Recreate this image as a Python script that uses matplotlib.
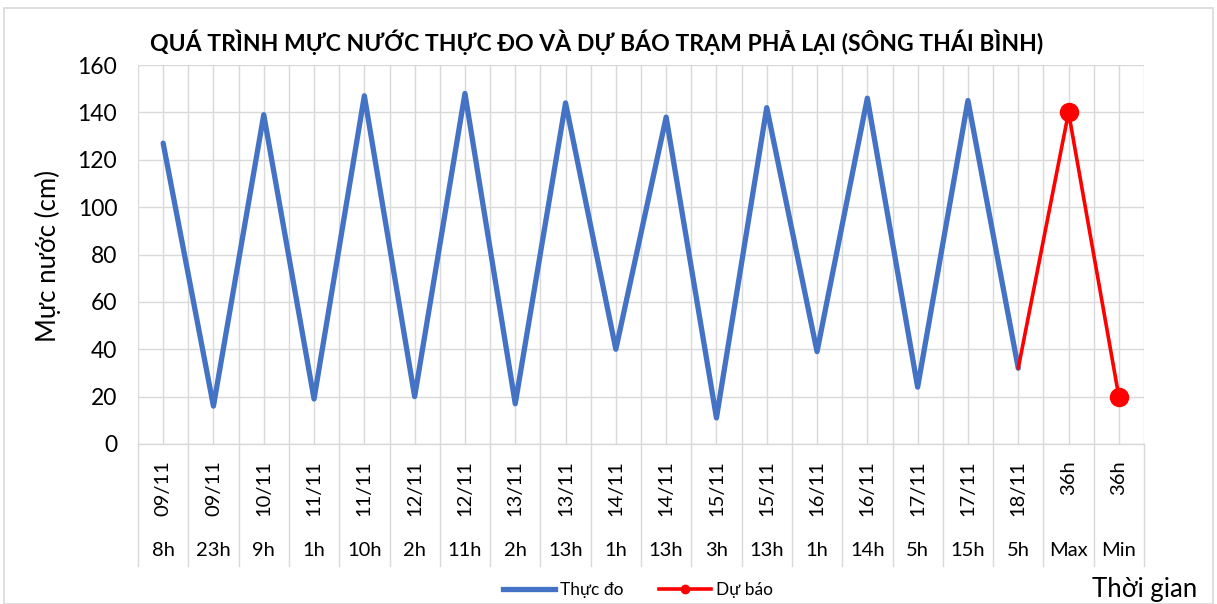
import matplotlib
matplotlib.use("Agg")
import matplotlib.pyplot as plt
from matplotlib.lines import Line2D
import numpy as np

plt.rcParams['font.family'] = ['Lato', 'DejaVu Sans']

dates = ["09/11", "09/11", "10/11", "11/11", "11/11", "12/11", "12/11", "13/11", "13/11", "14/11",
         "14/11", "15/11", "15/11", "16/11", "16/11", "17/11", "17/11", "18/11", "36h", "36h"]
hours = ["8h", "23h", "9h", "1h", "10h", "2h", "11h", "2h", "13h", "1h",
         "13h", "3h", "13h", "1h", "14h", "5h", "15h", "5h", "Max", "Min"]
observed = [127, 16, 139, 19, 147, 20, 148, 17, 144, 40, 138, 11, 142, 39, 146, 24, 145, 32]
forecast = [32, 140, 20]

W, H = 1217, 604
fig = plt.figure(figsize=(W / 100, H / 100), dpi=100)
L, R, T, B = 138, 1144, 65, 444
ax = fig.add_axes([L / W, 1 - B / H, (R - L) / W, (B - T) / H])

n = len(dates)
x = np.arange(n)
ax.plot(x[:len(observed)], observed, color="#4472C4", lw=3.8, solid_capstyle="round",
        solid_joinstyle="round", zorder=3)
fx = x[len(observed) - 1:len(observed) - 1 + len(forecast)]
ax.plot(fx, forecast, color="#FF0000", lw=2.6, solid_capstyle="round",
        solid_joinstyle="round", zorder=4)
ax.plot(fx[1:], forecast[1:], "o", color="#FF0000", ms=13, zorder=5)

ax.set_xlim(-0.5, n - 0.5)
ax.set_ylim(0, 160)
ax.set_yticks(np.arange(0, 161, 20))
ax.set_xticks(np.arange(-0.5, n, 0.5))
ax.set_xticklabels([])
ax.tick_params(axis="x", length=0)
ax.tick_params(axis="y", length=0, labelsize=16.5, pad=15, colors="#000000")
ax.grid(True, color="#D9D9D9", lw=1.0, zorder=0)
for s in ["top", "right", "left"]:
    ax.spines[s].set_visible(False)
ax.spines["bottom"].set_color("#D9D9D9")
ax.spines["bottom"].set_linewidth(1.0)

trans = ax.get_xaxis_transform()
axh = B - T
for i in range(n):
    ax.text(i, -16 / axh, dates[i], rotation=90, ha="center", va="top",
            fontsize=14.5, transform=trans)
    ax.text(i, -(551 - B) / axh, hours[i], ha="center", va="center",
            fontsize=14.5, transform=trans)
for b in np.arange(-0.5, n, 1.0):
    ax.add_line(Line2D([b, b], [0, -(566 - B) / axh], transform=trans, color="#D9D9D9",
                       lw=1.0, clip_on=False))

fig.text(597 / W, 1 - 42 / H, "QUÁ TRÌNH MỰC NƯỚC THỰC ĐO VÀ DỰ BÁO TRẠM PHẢ LẠI (SÔNG THÁI BÌNH)",
         ha="center", va="center", fontsize=16.6, fontweight="bold")
fig.text(48 / W, 1 - 256 / H, "Mực nước (cm)", rotation=90, ha="center", va="center", fontsize=18.5)
fig.text(1145 / W, 1 - 590 / H, "Thời gian", ha="center", va="center", fontsize=18.5)

handles = [Line2D([], [], color="#4472C4", lw=3.8),
           Line2D([], [], color="#FF0000", lw=2.6, marker="o", ms=6)]
fig.legend(handles, ["Thực đo", "Dự báo"], loc="center", bbox_to_anchor=(638 / W, 1 - 590 / H),
           ncol=2, frameon=False, fontsize=12.5, handlelength=3.0, columnspacing=2.0,
           handletextpad=0.3)

fig.patches.append(plt.Rectangle((4 / W, 0), 1 - 8 / W, 1 - 8 / H, transform=fig.transFigure,
                                 fill=False, edgecolor="#D9D9D9", lw=1.2))

fig.savefig("out.png", dpi=100)
